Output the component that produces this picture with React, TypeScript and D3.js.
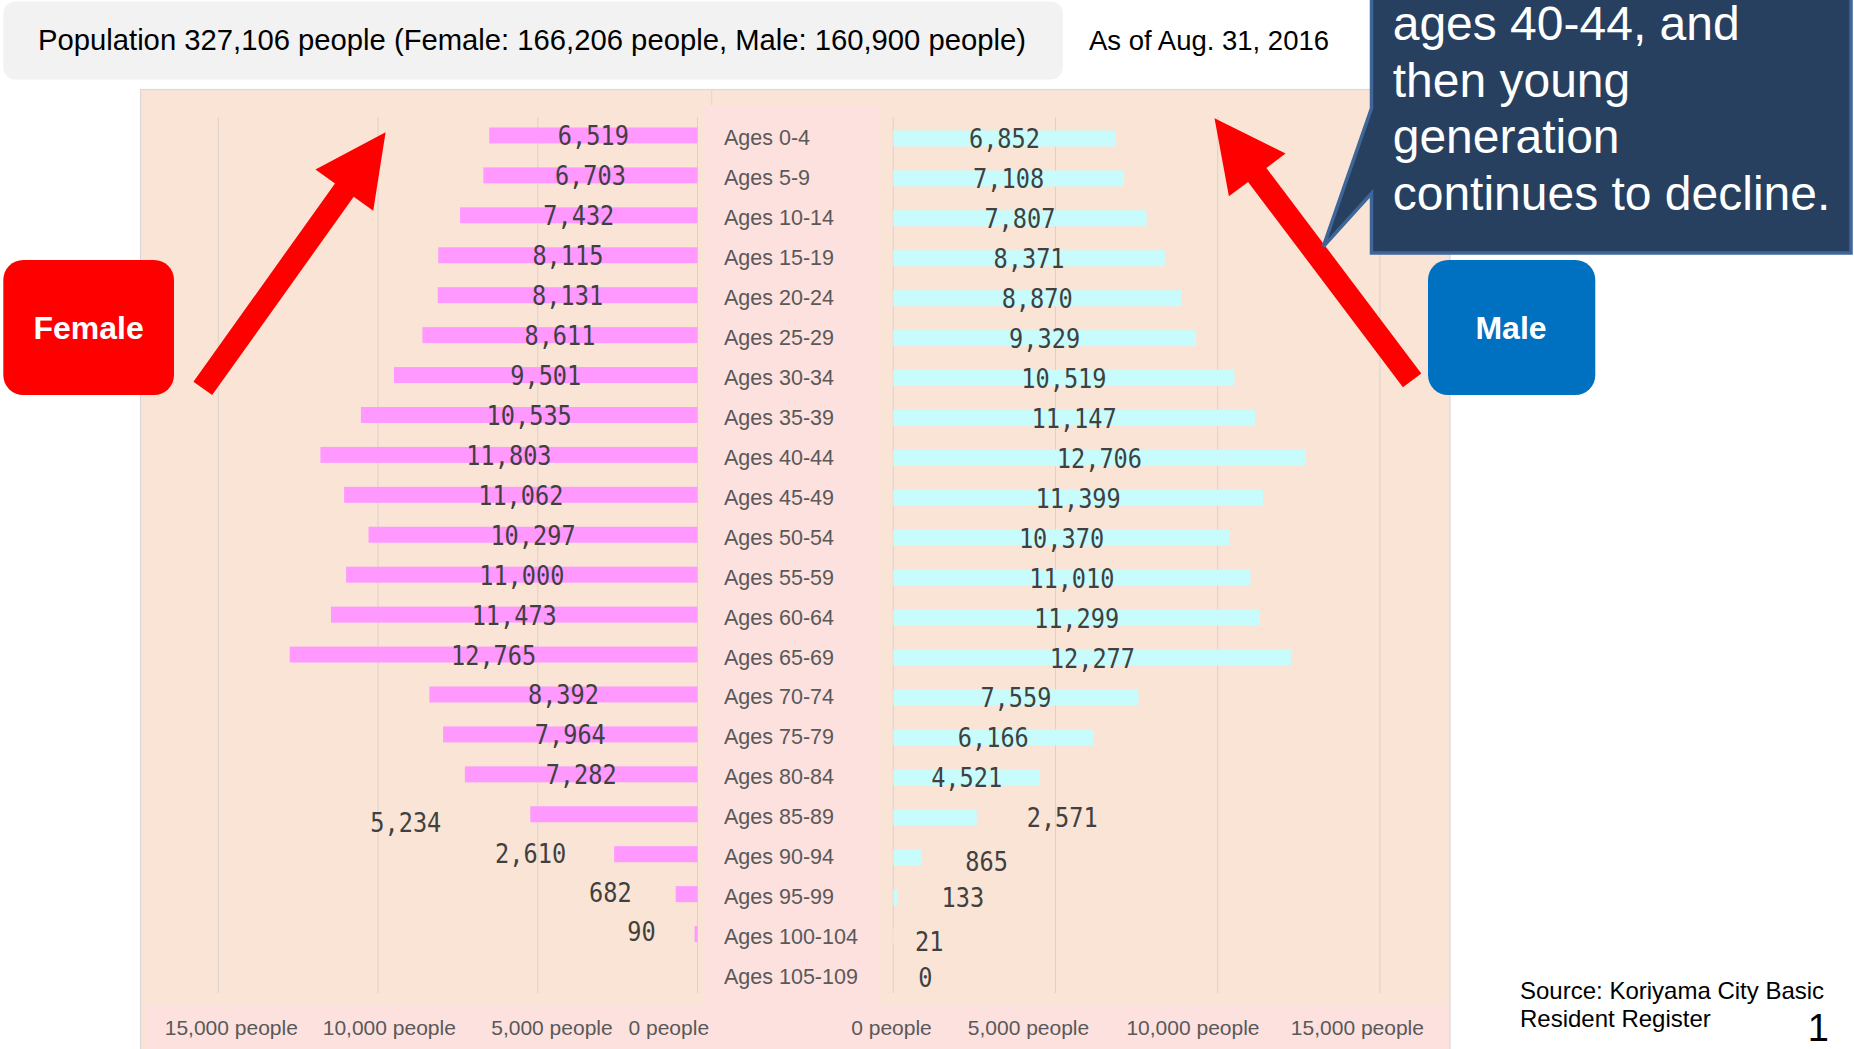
import React from "react";
import * as d3 from "d3";

// ---------- DATA ----------
const ageGroups: string[] = [
  "Ages 0-4", "Ages 5-9", "Ages 10-14", "Ages 15-19", "Ages 20-24", "Ages 25-29",
  "Ages 30-34", "Ages 35-39", "Ages 40-44", "Ages 45-49", "Ages 50-54", "Ages 55-59",
  "Ages 60-64", "Ages 65-69", "Ages 70-74", "Ages 75-79", "Ages 80-84", "Ages 85-89",
  "Ages 90-94", "Ages 95-99", "Ages 100-104", "Ages 105-109",
];
const femaleValues: (number | null)[] = [
  6519, 6703, 7432, 8115, 8131, 8611, 9501, 10535, 11803, 11062, 10297, 11000,
  11473, 12765, 8392, 7964, 7282, 5234, 2610, 682, 90, null,
];
const maleValues: (number | null)[] = [
  6852, 7108, 7807, 8371, 8870, 9329, 10519, 11147, 12706, 11399, 10370, 11010,
  11299, 12277, 7559, 6166, 4521, 2571, 865, 133, 21, 0,
];
const outsideLabelAges: string[] = ["Ages 85-89", "Ages 90-94", "Ages 95-99", "Ages 100-104", "Ages 105-109"];
const axisTicks: number[] = [0, 5000, 10000, 15000];
const axisTickLabels: string[] = ["0 people", "5,000 people", "10,000 people", "15,000 people"];
const headerText = "Population 327,106 people (Female: 166,206 people, Male: 160,900 people)";
const dateText = "As of Aug. 31, 2016";
const calloutLines: string[] = ["ages 40-44, and", "then young", "generation", "continues to decline."];
const sourceLines: string[] = ["Source: Koriyama City Basic", "Resident Register"];
const pageNumber = "1";
const femaleTag = "Female";
const maleTag = "Male";

// ---------- LAYOUT ----------
const W = 1854;
const H = 1049;
const STEP = 39.93;
const BAND_TOP = 115.5;
const xF = d3.scaleLinear().domain([0, 15000]).range([697.5, 218.3]);
const xM = d3.scaleLinear().domain([0, 15000]).range([893.3, 1379.9]);
const yF = d3.scaleBand<string>().domain(ageGroups)
  .range([BAND_TOP, BAND_TOP + ageGroups.length * STEP]).paddingInner(0.6).paddingOuter(0.3);
const yM = d3.scaleBand<string>().domain(ageGroups)
  .range([BAND_TOP + 3, BAND_TOP + 3 + ageGroups.length * STEP]).paddingInner(0.6).paddingOuter(0.3);

const fmt = d3.format(",");
const OUT_GAP = 44;
const CHAR_W = 14.2;
const femaleNudge: Record<string, [number, number]> = {
  "Ages 85-89": [-45, 8], "Ages 90-94": [-4, -1], "Ages 95-99": [0, -2], "Ages 100-104": [5, -3],
};
const maleNudge: Record<string, [number, number]> = {
  "Ages 85-89": [6, 0], "Ages 90-94": [0, 4], "Ages 100-104": [-23, 4], "Ages 105-109": [-19, 0],
};
const femaleTickNudge = [-28.7, 14.2, 11.3, 13];
const maleTickNudge = [-1.8, -27, -24.7, -22.5];

const C = {
  peach: "#F9E4D6",
  pink: "#FDE1DF",
  female: "#FF99FF",
  male: "#C8FCFC",
  grid: "#DAD3CB",
  border: "#D9D9D9",
  value: "#404040",
  cat: "#595959",
};

function arrowPoints(x0: number, y0: number, x1: number, y1: number, sw: number, hw: number, hl: number) {
  const dx = x1 - x0, dy = y1 - y0;
  const L = Math.hypot(dx, dy);
  const ux = dx / L, uy = dy / L;
  const px = -uy, py = ux;
  const bx = x1 - ux * hl, by = y1 - uy * hl;
  const pts = [
    [x0 + px * sw / 2, y0 + py * sw / 2],
    [bx + px * sw / 2, by + py * sw / 2],
    [bx + px * hw / 2, by + py * hw / 2],
    [x1, y1],
    [bx - px * hw / 2, by - py * hw / 2],
    [bx - px * sw / 2, by - py * sw / 2],
    [x0 - px * sw / 2, y0 - py * sw / 2],
  ];
  return pts.map((p) => p.join(",")).join(" ");
}

const SANS = "'Liberation Sans', Arial, sans-serif";
const MONO = "'DejaVu Sans Mono', monospace";

export default function App() {
  const rows = ageGroups.map((a, i) => ({ age: a, f: femaleValues[i], m: maleValues[i] }));
  const isOutside = (a: string) => outsideLabelAges.includes(a);
  return (
    <svg width={W} height={H} style={{ position: "fixed", left: 0, top: 0, background: "#fff" }}
      xmlns="http://www.w3.org/2000/svg">
      <rect x={0} y={0} width={W} height={H} fill="#ffffff" />
      {/* plot area */}
      <rect x={140.5} y={89.5} width={1309.5} height={980} fill={C.peach} stroke={C.border} strokeWidth={1.2} />
      {/* axis band */}
      <rect x={145} y={1005} width={1304} height={60} fill={C.pink} />
      {/* center category band */}
      <rect x={704} y={105} width={176} height={910} fill={C.pink} />
      <line x1={711.7} x2={711.7} y1={90} y2={105} stroke={C.border} strokeWidth={1} />

      {/* gridlines */}
      {axisTicks.map((t) => (
        <line key={"gf" + t} x1={xF(t)} x2={xF(t)} y1={117} y2={993} stroke={C.grid} strokeWidth={1} />
      ))}
      {axisTicks.map((t) => (
        <line key={"gm" + t} x1={xM(t)} x2={xM(t)} y1={117} y2={993} stroke={C.grid} strokeWidth={1} />
      ))}

      {/* bars */}
      {rows.map((r) => r.f != null && (
        <rect key={"bf" + r.age} x={xF(r.f)} y={yF(r.age)} width={xF(0) - xF(r.f)} height={yF.bandwidth()} fill={C.female} />
      ))}
      {rows.map((r) => r.m != null && (
        <rect key={"bm" + r.age} x={xM(0)} y={yM(r.age)} width={xM(r.m) - xM(0)} height={yM.bandwidth()} fill={C.male} />
      ))}

      {/* value labels female */}
      {rows.map((r) => {
        if (r.f == null) return null;
        const s = fmt(r.f);
        const len = s.length * CHAR_W;
        const cy = (yF(r.age) as number) + yF.bandwidth() / 2;
        let x0: number;
        let dy = 0;
        if (!isOutside(r.age)) {
          x0 = (xF(r.f) + xF(0)) / 2 - len / 2;
        } else {
          const n = femaleNudge[r.age] || [0, 0];
          x0 = xF(r.f) - OUT_GAP + n[0] - len;
          dy = n[1];
        }
        return (
          <text key={"lf" + r.age} x={x0} y={cy + 10 + dy} fontFamily={MONO} fontSize={27} fill={C.value}
            textLength={len} lengthAdjust="spacingAndGlyphs">{s}</text>
        );
      })}
      {/* value labels male */}
      {rows.map((r) => {
        if (r.m == null) return null;
        const s = fmt(r.m);
        const len = s.length * CHAR_W;
        const cy = (yM(r.age) as number) + yM.bandwidth() / 2;
        let x0: number;
        let dy = 0;
        if (!isOutside(r.age)) {
          x0 = (xM(r.m) + xM(0)) / 2 - len / 2;
        } else {
          const n = maleNudge[r.age] || [0, 0];
          x0 = xM(r.m) + OUT_GAP + n[0];
          dy = n[1];
        }
        return (
          <text key={"lm" + r.age} x={x0} y={cy + 10 + dy} fontFamily={MONO} fontSize={27} fill={C.value}
            textLength={len} lengthAdjust="spacingAndGlyphs">{s}</text>
        );
      })}

      {/* category labels */}
      {ageGroups.map((a) => (
        <text key={"c" + a} x={724} y={(yF(a) as number) + yF.bandwidth() / 2 + 10} fontFamily={SANS}
          fontSize={21.5} fill={C.cat}>{a}</text>
      ))}

      {/* axis labels */}
      {axisTicks.map((t, i) => (
        <text key={"af" + t} x={xF(t) + femaleTickNudge[i]} y={1035} textAnchor="middle" fontFamily={SANS}
          fontSize={21} fill={C.cat}>{axisTickLabels[i]}</text>
      ))}
      {axisTicks.map((t, i) => (
        <text key={"am" + t} x={xM(t) + maleTickNudge[i]} y={1035} textAnchor="middle" fontFamily={SANS}
          fontSize={21} fill={C.cat}>{axisTickLabels[i]}</text>
      ))}

      {/* arrows */}
      <polygon points={arrowPoints(202.8, 388.4, 385.6, 132.3, 23, 71, 71)} fill="#FF0000" />
      <polygon points={arrowPoints(1412.1, 380.3, 1214.5, 118.3, 23, 71, 71)} fill="#FF0000" />

      {/* tags */}
      <rect x={3.3} y={260} width={170.7} height={135} rx={20} fill="#FF0000" />
      <text x={88.6} y={339} textAnchor="middle" fontFamily={SANS} fontWeight="bold" fontSize={32} fill="#fff">{femaleTag}</text>
      <rect x={1428} y={260} width={167.3} height={135} rx={20} fill="#0070C0" />
      <text x={1511} y={339} textAnchor="middle" fontFamily={SANS} fontWeight="bold" fontSize={32} fill="#fff">{maleTag}</text>

      {/* callout */}
      <path d="M1371.5,-10 L1851,-10 L1851,253 L1371.5,253 L1371.5,193.3 L1323.3,246.7 L1371.5,108.3 Z"
        fill="#27405F" stroke="#3F6698" strokeWidth={3.5} strokeLinejoin="miter" />
      {calloutLines.map((l, i) => (
        <text key={"co" + i} x={1392.7} y={40 + i * 56.7} fontFamily={SANS} fontSize={48} fill="#fff">{l}</text>
      ))}

      {/* header */}
      <rect x={3.3} y={1.5} width={1059.5} height={78} rx={12} fill="#F2F2F2" />
      <text x={38} y={50} fontFamily={SANS} fontSize={29} fill="#000" textLength={988} lengthAdjust="spacingAndGlyphs">{headerText}</text>
      <text x={1089} y={50} fontFamily={SANS} fontSize={27.5} fill="#000">{dateText}</text>

      {/* source */}
      {sourceLines.map((l, i) => (
        <text key={"s" + i} x={1520} y={999.3 + i * 27.4} fontFamily={SANS} fontSize={24} fill="#000">{l}</text>
      ))}
      <text x={1829} y={1041} textAnchor="end" fontFamily={SANS} fontSize={38} fill="#000">{pageNumber}</text>
    </svg>
  );
}
